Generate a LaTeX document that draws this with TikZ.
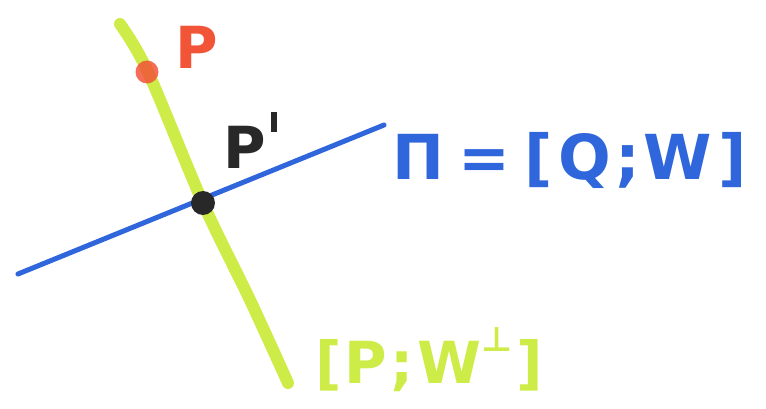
\documentclass[tikz,border=0pt]{standalone}
\usepackage{fontspec}
\setmainfont{DejaVu Sans}
\begin{document}
\begin{tikzpicture}[x=1pt,y=-1pt,
  limec/.style={line width=12pt,draw=lime,line cap=round},
  planec/.style={line width=5pt,draw=planeblue,line cap=round},
  dotnode/.style={circle,inner sep=0pt,minimum size=#1},
  lbl/.style={font=\bfseries\fontsize{#1}{#1}\selectfont,inner sep=0pt}]
\definecolor{lime}{RGB}{206,236,72}
\definecolor{planeblue}{RGB}{48,102,220}
\definecolor{redp}{RGB}{242,84,56}
\definecolor{darkp}{RGB}{40,40,40}
\useasboundingbox (0,0) rectangle (766,409);
\coordinate (bl) at (18,274);
\coordinate (br) at (384,125);
\draw[limec] plot[smooth,tension=0.55] coordinates {(120,24) (148,72) (203,203) (250,300) (288,383)};
\draw[planec] (bl) -- (br);
\node[dotnode=23pt,fill=redp,opacity=0.85] (p) at (147,72) {};
\node[dotnode=24pt,fill=darkp] (pd) at (203,203) {};
\node[lbl=58pt,text=redp] (plbl) at (197,47) {P};
\node[lbl=58pt,text=darkp] (pdlbl) at (250,140) {P\kern5pt\raisebox{36pt}{\rule{6pt}{20pt}}};
\node[lbl=62pt,text=planeblue,anchor=west] (pilbl) at (392,160) {Π\hspace{14pt}=\hspace{14pt}[\hspace{6pt}Q\hspace{4pt};\hspace{4pt}W\hspace{6pt}]};
\node[lbl=58pt,text=lime,anchor=west] (wlbl) at (315,360) {[\hspace{3pt}P\hspace{3pt};\hspace{4pt}W\raisebox{0.55em}{\fontsize{34pt}{34pt}\selectfont ⊥}\hspace{4pt}]};
\end{tikzpicture}
\end{document}
